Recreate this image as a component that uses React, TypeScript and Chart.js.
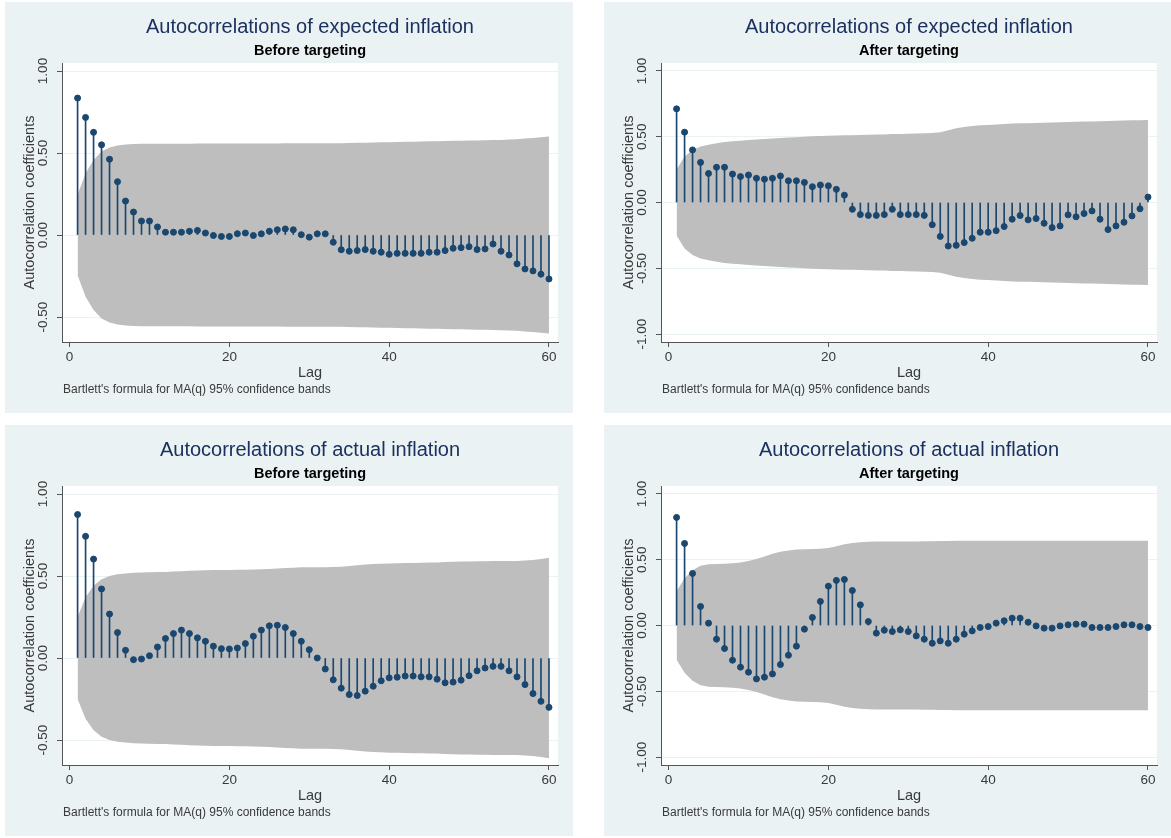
import React, { useEffect, useRef } from "react";
import { Chart, registerables } from "chart.js";

Chart.register(...registerables);

// ---------- data ----------
const LAGS = [
  1, 2, 3, 4, 5, 6, 7, 8, 9, 10, 11, 12, 13, 14, 15, 16, 17, 18, 19, 20,
  21, 22, 23, 24, 25, 26, 27, 28, 29, 30, 31, 32, 33, 34, 35, 36, 37, 38, 39, 40,
  41, 42, 43, 44, 45, 46, 47, 48, 49, 50, 51, 52, 53, 54, 55, 56, 57, 58, 59, 60,
];

const EXP_BEFORE_AC = [
  0.835, 0.717, 0.626, 0.550, 0.462, 0.325, 0.207, 0.140, 0.085, 0.085,
  0.049, 0.017, 0.017, 0.017, 0.023, 0.028, 0.012, -0.003, -0.009, -0.009,
  0.008, 0.012, -0.003, 0.007, 0.023, 0.032, 0.037, 0.032, 0.002, -0.013,
  0.007, 0.007, -0.044, -0.090, -0.099, -0.095, -0.089, -0.099, -0.105, -0.118,
  -0.112, -0.112, -0.112, -0.112, -0.105, -0.105, -0.095, -0.081, -0.077, -0.071,
  -0.089, -0.085, -0.055, -0.099, -0.122, -0.176, -0.207, -0.219, -0.239, -0.268,
];
const EXP_BEFORE_BAND = [
  0.245, 0.377, 0.458, 0.509, 0.533, 0.546, 0.552, 0.555, 0.556, 0.557,
  0.557, 0.557, 0.557, 0.557, 0.557, 0.558, 0.558, 0.558, 0.558, 0.558,
  0.558, 0.558, 0.558, 0.558, 0.558, 0.558, 0.559, 0.559, 0.559, 0.559,
  0.559, 0.559, 0.559, 0.560, 0.561, 0.562, 0.563, 0.564, 0.565, 0.566,
  0.567, 0.568, 0.569, 0.570, 0.571, 0.572, 0.573, 0.574, 0.575, 0.576,
  0.577, 0.578, 0.579, 0.580, 0.582, 0.584, 0.588, 0.592, 0.596, 0.600,
];

const EXP_AFTER_AC = [
  0.712, 0.535, 0.400, 0.305, 0.221, 0.268, 0.268, 0.216, 0.197, 0.209,
  0.184, 0.177, 0.184, 0.202, 0.165, 0.165, 0.153, 0.120, 0.133, 0.127,
  0.100, 0.056, -0.052, -0.092, -0.098, -0.098, -0.092, -0.052, -0.092, -0.092,
  -0.092, -0.098, -0.169, -0.258, -0.331, -0.326, -0.305, -0.272, -0.226, -0.226,
  -0.214, -0.183, -0.127, -0.099, -0.132, -0.122, -0.158, -0.191, -0.178, -0.094,
  -0.109, -0.084, -0.064, -0.127, -0.206, -0.178, -0.150, -0.102, -0.048, 0.041,
];
const EXP_AFTER_BAND = [
  0.250, 0.350, 0.400, 0.425, 0.440, 0.450, 0.460, 0.465, 0.470, 0.475,
  0.480, 0.483, 0.486, 0.490, 0.494, 0.497, 0.500, 0.503, 0.505, 0.507,
  0.509, 0.511, 0.512, 0.513, 0.515, 0.517, 0.518, 0.520, 0.521, 0.523,
  0.524, 0.526, 0.528, 0.535, 0.550, 0.565, 0.575, 0.582, 0.587, 0.590,
  0.594, 0.597, 0.600, 0.602, 0.603, 0.605, 0.607, 0.609, 0.611, 0.613,
  0.614, 0.615, 0.616, 0.617, 0.619, 0.621, 0.623, 0.625, 0.626, 0.627,
];

const ACT_BEFORE_AC = [
  0.875, 0.742, 0.603, 0.421, 0.268, 0.155, 0.047, -0.010, -0.006, 0.014,
  0.067, 0.119, 0.149, 0.170, 0.149, 0.123, 0.102, 0.072, 0.057, 0.055,
  0.061, 0.088, 0.133, 0.170, 0.196, 0.200, 0.186, 0.149, 0.102, 0.051,
  0.000, -0.067, -0.133, -0.184, -0.223, -0.229, -0.202, -0.172, -0.139, -0.121,
  -0.117, -0.110, -0.110, -0.115, -0.115, -0.129, -0.151, -0.147, -0.135, -0.108,
  -0.078, -0.061, -0.051, -0.051, -0.078, -0.115, -0.162, -0.217, -0.264, -0.301,
];
const ACT_BEFORE_BAND = [
  0.250, 0.370, 0.440, 0.480, 0.500, 0.510, 0.515, 0.520, 0.522, 0.523,
  0.524, 0.525, 0.527, 0.529, 0.532, 0.534, 0.535, 0.536, 0.537, 0.537,
  0.538, 0.538, 0.539, 0.541, 0.543, 0.546, 0.549, 0.551, 0.553, 0.554,
  0.554, 0.554, 0.555, 0.557, 0.561, 0.565, 0.570, 0.573, 0.575, 0.577,
  0.578, 0.579, 0.580, 0.581, 0.582, 0.583, 0.585, 0.587, 0.588, 0.589,
  0.590, 0.590, 0.591, 0.591, 0.591, 0.592, 0.594, 0.598, 0.604, 0.612,
];

const ACT_AFTER_AC = [
  0.822, 0.624, 0.396, 0.145, 0.018, -0.104, -0.175, -0.264, -0.317, -0.355,
  -0.406, -0.393, -0.368, -0.297, -0.226, -0.157, -0.028, 0.061, 0.183, 0.299,
  0.343, 0.350, 0.266, 0.157, 0.030, -0.058, -0.036, -0.046, -0.033, -0.046,
  -0.079, -0.104, -0.135, -0.117, -0.135, -0.104, -0.066, -0.041, -0.015, -0.008,
  0.018, 0.036, 0.056, 0.056, 0.025, -0.003, -0.020, -0.020, -0.003, 0.005,
  0.010, 0.010, -0.015, -0.015, -0.015, -0.008, 0.005, 0.005, -0.008, -0.015,
];
const ACT_AFTER_BAND = [
  0.260, 0.360, 0.420, 0.455, 0.465, 0.467, 0.470, 0.473, 0.480, 0.490,
  0.505, 0.525, 0.545, 0.560, 0.570, 0.577, 0.580, 0.582, 0.583, 0.590,
  0.602, 0.617, 0.628, 0.634, 0.637, 0.638, 0.638, 0.638, 0.639, 0.639,
  0.639, 0.640, 0.640, 0.642, 0.643, 0.645, 0.645, 0.645, 0.645, 0.645,
  0.645, 0.645, 0.645, 0.645, 0.645, 0.645, 0.645, 0.645, 0.645, 0.645,
  0.645, 0.645, 0.645, 0.645, 0.645, 0.645, 0.645, 0.645, 0.645, 0.645,
];

const Y_TICKS_SHORT = [-0.5, 0, 0.5, 1];
const Y_TICKS_FULL = [-1, -0.5, 0, 0.5, 1];
const X_TICKS = [0, 20, 40, 60];

const TITLE_EXPECTED = "Autocorrelations of expected inflation";
const TITLE_ACTUAL = "Autocorrelations of actual inflation";
const SUB_BEFORE = "Before targeting";
const SUB_AFTER = "After targeting";
const Y_TITLE = "Autocorrelation coefficients";
const X_TITLE = "Lag";
const NOTE = "Bartlett's formula for MA(q) 95% confidence bands";

// ---------- style ----------
const FONT = "'Liberation Sans', Arial, sans-serif";
const BG = "#eaf2f3";
const GRID = "#eaf2f3";
const NAVY = "#1a476f";
const BAND = "#bebebe";
const AXIS = "#555555";
const TEXT = "#3a3a3a";
const TITLE_COLOR = "#1c3160";

type PanelProps = {
  left: number;
  top: number;
  width: number;
  height: number;
  title: string;
  subtitle: string;
  ac: number[];
  band: number[];
  yTicks: number[];
  yMin: number;
  yMax: number;
};

function Panel(p: PanelProps) {
  const ref = useRef<HTMLCanvasElement | null>(null);

  useEffect(() => {
    if (!ref.current) return;
    const decor = {
      id: "decor",
      beforeDraw(chart: any) {
        const { ctx, chartArea, width, height } = chart;
        ctx.save();
        ctx.fillStyle = BG;
        ctx.fillRect(0, 0, width, height);
        ctx.fillStyle = "#ffffff";
        ctx.fillRect(chartArea.left, chartArea.top, chartArea.right - chartArea.left, chartArea.bottom - chartArea.top);
        ctx.restore();
      },
      afterDraw(chart: any) {
        const { ctx } = chart;
        ctx.save();
        ctx.fillStyle = TEXT;
        ctx.font = `12px ${FONT}`;
        ctx.textBaseline = "middle";
        ctx.textAlign = "left";
        ctx.fillText(NOTE, 58, 388);
        ctx.restore();
      },
    };

    const chart = new Chart(ref.current, {
      type: "line",
      data: {
        datasets: [
          {
            label: "upper band",
            data: LAGS.map((l, i) => ({ x: l, y: p.band[i] })),
            borderColor: "rgba(0,0,0,0)",
            borderWidth: 0,
            pointRadius: 0,
            backgroundColor: BAND,
            fill: "+1",
            tension: 0,
            order: 10,
          },
          {
            label: "lower band",
            data: LAGS.map((l, i) => ({ x: l, y: -p.band[i] })),
            borderColor: "rgba(0,0,0,0)",
            borderWidth: 0,
            pointRadius: 0,
            fill: false,
            tension: 0,
            order: 10,
          },
          {
            type: "bar",
            label: "spikes",
            data: LAGS.map((l, i) => ({ x: l, y: p.ac[i] })),
            backgroundColor: NAVY,
            barThickness: 1,
            order: 5,
          } as any,
          {
            label: "ac",
            data: LAGS.map((l, i) => ({ x: l, y: p.ac[i] })),
            showLine: false,
            pointRadius: 3,
            pointBorderWidth: 1,
            pointBackgroundColor: NAVY,
            pointBorderColor: NAVY,
            order: 1,
          },
        ],
      },
      options: {
        animation: false,
        responsive: false,
        devicePixelRatio: 1,
        layout: { padding: { left: 0, right: p.width - 553, top: 0, bottom: 0 } },
        plugins: {
          legend: { display: false },
          tooltip: { enabled: false },
          title: {
            display: true,
            text: p.title,
            color: TITLE_COLOR,
            font: { family: FONT, size: 20, weight: "normal" },
            padding: { top: 13, bottom: 0 },
            fullSize: false,
          },
          subtitle: {
            display: true,
            text: p.subtitle,
            color: "#000000",
            font: { family: FONT, size: 14.5, weight: "bold" },
            padding: { top: 2.8, bottom: 3.8 },
            fullSize: false,
          },
        },
        scales: {
          x: {
            type: "linear",
            min: -0.95,
            max: 61.13,
            offset: false,
            afterBuildTicks: (s: any) => {
              s.ticks = X_TICKS.map((v) => ({ value: v }));
            },
            afterFit: (s: any) => {
              s.height = 71;
              s.paddingLeft = 0;
              s.paddingRight = 0;
            },
            grid: { drawOnChartArea: false, drawTicks: true, tickLength: 5, tickColor: AXIS, offset: false },
            border: { display: true, color: AXIS, width: 1 },
            ticks: {
              color: TEXT,
              font: { family: FONT, size: 13.5 },
              padding: 2,
              maxRotation: 0,
              autoSkip: false,
              callback: (v: any) => String(v),
            },
            title: {
              display: true,
              text: X_TITLE,
              color: TEXT,
              font: { family: FONT, size: 14.5 },
              padding: { top: 0, bottom: 31.3 },
            },
          },
          y: {
            type: "linear",
            min: p.yMin,
            max: p.yMax,
            afterBuildTicks: (s: any) => {
              s.ticks = p.yTicks.map((v) => ({ value: v }));
            },
            afterFit: (s: any) => {
              s.width = 57;
              s.paddingTop = 0;
              s.paddingBottom = 0;
            },
            grid: { color: GRID, lineWidth: 1, drawTicks: true, tickLength: 5, tickColor: AXIS },
            border: { display: true, color: AXIS, width: 1 },
            ticks: {
              color: TEXT,
              font: { family: FONT, size: 13.5 },
              minRotation: 90,
              maxRotation: 90,
              crossAlign: "center",
              padding: -1.5,
              autoSkip: false,
              callback: (v: any) => Number(v).toFixed(2),
            },
            title: {
              display: true,
              text: Y_TITLE,
              color: TEXT,
              font: { family: FONT, size: 14.5 },
              padding: { top: 16.5, bottom: 0 },
            },
          },
        },
      } as any,
      plugins: [decor],
    });
    return () => chart.destroy();
  }, []);

  return (
    <div
      style={{
        position: "absolute",
        left: p.left,
        top: p.top,
        width: p.width,
        height: p.height,
        background: BG,
      }}
    >
      <canvas ref={ref} width={p.width} height={p.height} style={{ display: "block" }} />
    </div>
  );
}

export default function App() {
  useEffect(() => {
    document.body.style.margin = "0";
    document.body.style.background = "#ffffff";
  }, []);
  return (
    <div style={{ position: "relative", width: 1171, height: 838, background: "#ffffff", overflow: "hidden" }}>
      <Panel left={5} top={2} width={568} height={411} title={TITLE_EXPECTED} subtitle={SUB_BEFORE}
        ac={EXP_BEFORE_AC} band={EXP_BEFORE_BAND} yTicks={Y_TICKS_SHORT} yMin={-0.6524} yMax={1.0488} />
      <Panel left={604} top={2} width={567} height={411} title={TITLE_EXPECTED} subtitle={SUB_AFTER}
        ac={EXP_AFTER_AC} band={EXP_AFTER_BAND} yTicks={Y_TICKS_FULL} yMin={-1.0608} yMax={1.0608} />
      <Panel left={5} top={425} width={568} height={411} title={TITLE_ACTUAL} subtitle={SUB_BEFORE}
        ac={ACT_BEFORE_AC} band={ACT_BEFORE_BAND} yTicks={Y_TICKS_SHORT} yMin={-0.6524} yMax={1.0488} />
      <Panel left={604} top={425} width={567} height={411} title={TITLE_ACTUAL} subtitle={SUB_AFTER}
        ac={ACT_AFTER_AC} band={ACT_AFTER_BAND} yTicks={Y_TICKS_FULL} yMin={-1.0608} yMax={1.0608} />
    </div>
  );
}
